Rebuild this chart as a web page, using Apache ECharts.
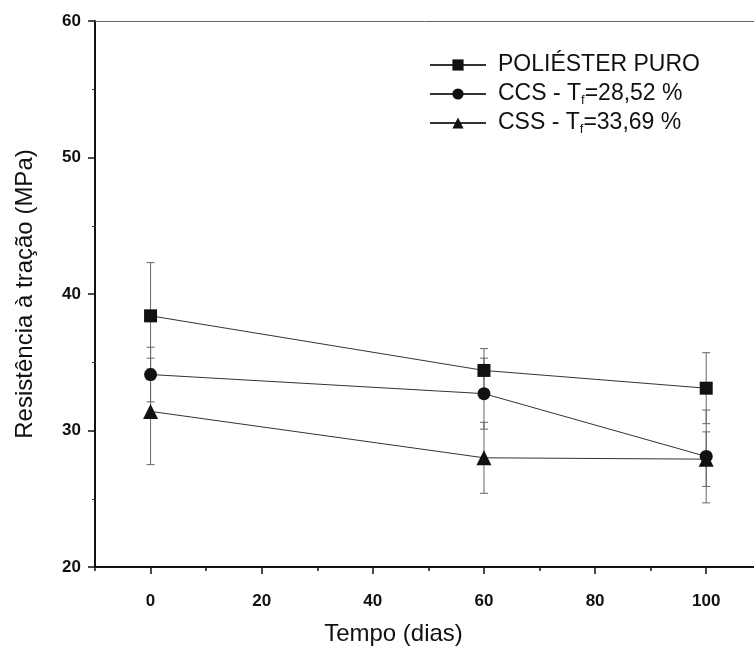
<!DOCTYPE html>
<html>
<head>
<meta charset="utf-8">
<script src="https://cdn.jsdelivr.net/npm/echarts@6/dist/echarts.min.js"></script>
<style>
  html, body { margin: 0; padding: 0; background: #fff; }
  #chart { width: 754px; height: 651px; }
</style>
</head>
<body>
<div id="chart"></div>
<script>
// Tempo de envelhecimento (dias)
const days = [0, 60, 100];

// Resistência à tração média (MPa) e desvio padrão
const puroMean = [38.4, 34.4, 33.1];
const puroSd   = [3.9, 1.6, 2.6];
const ccsMean  = [34.1, 32.7, 28.1];
const ccsSd    = [2.0, 2.6, 3.4];
const cssMean  = [31.4, 28.0, 27.9];
const cssSd    = [3.9, 2.6, 2.0];

const seriesNames = ['POLIÉSTER PURO', 'CCS', 'CSS'];
const legendLabels = ['POLIÉSTER PURO', 'CCS - T{sub|f}=28,52 %', 'CSS - T{sub|f}=33,69 %'];
const symbols = ['rect', 'circle', 'triangle'];
const symbolSizes = [13, 13, 15];

const yTicks = [20, 30, 40, 50, 60];
const xTicks = [0, 20, 40, 60, 80, 100];
const xMinorTicks = [-10, 10, 30, 50, 70, 90];

const means = [puroMean, ccsMean, cssMean];
const sds = [puroSd, ccsSd, cssSd];

const FONT = 'Liberation Sans, Arial, sans-serif';
const X_MIN = -10;
const X_MAX = 108.6; // o eixo continua além da borda direita

function errorBarRenderer(params, api) {
  const x = api.value(0);
  const m = api.value(1);
  const s = api.value(2);
  const top = api.coord([x, m + s]);
  const bot = api.coord([x, m - s]);
  const cap = 4;
  const style = { stroke: '#666', lineWidth: 1 };
  return {
    type: 'group',
    children: [
      { type: 'line', shape: { x1: top[0], y1: top[1], x2: bot[0], y2: bot[1] }, style },
      { type: 'line', shape: { x1: top[0] - cap, y1: top[1], x2: top[0] + cap, y2: top[1] }, style },
      { type: 'line', shape: { x1: bot[0] - cap, y1: bot[1], x2: bot[0] + cap, y2: bot[1] }, style }
    ]
  };
}

const series = [];
seriesNames.forEach((name, i) => {
  series.push({
    type: 'custom',
    name: name + ' (erro)',
    renderItem: errorBarRenderer,
    data: days.map((d, k) => [d, means[i][k], sds[i][k]]),
    z: 2,
    silent: true,
    clip: false
  });
});
seriesNames.forEach((name, i) => {
  series.push({
    type: 'line',
    name: name,
    data: days.map((d, k) => [d, means[i][k]]),
    symbol: symbols[i],
    symbolSize: symbolSizes[i],
    showAllSymbol: true,
    lineStyle: { color: '#333', width: 1 },
    itemStyle: { color: '#111' },
    z: 3
  });
});

const chart = echarts.init(document.getElementById('chart'), null, { renderer: 'canvas' });
chart.setOption({
  backgroundColor: '#fff',
  animation: false,
  grid: { left: 95, right: 0, top: 21, bottom: 83, show: false },
  legend: {
    data: seriesNames,
    orient: 'vertical',
    left: 424,
    top: 47,
    itemWidth: 56,
    itemHeight: 14,
    itemGap: 1,
    formatter: function (name) {
      return legendLabels[seriesNames.indexOf(name)];
    },
    textStyle: {
      fontFamily: FONT, fontSize: 23, color: '#111', lineHeight: 26, padding: [0, 0, 0, 7],
      rich: {
        sub: { fontFamily: FONT, fontSize: 13, color: '#111', lineHeight: 12, verticalAlign: 'bottom', padding: [15, 0, 0, 0] }
      }
    }
  },
  xAxis: [
    {
      type: 'value',
      min: X_MIN, max: X_MAX, interval: 10,
      name: 'Tempo (dias)',
      nameLocation: 'middle',
      nameGap: 55,
      nameTextStyle: { fontFamily: FONT, fontSize: 24, color: '#111', padding: [0, 62, 0, 0] },
      axisLine: { onZero: false, lineStyle: { color: '#111', width: 2 } },
      axisTick: { show: true, length: 7, customValues: xTicks, lineStyle: { color: '#111', width: 1.5 } },
      splitLine: { show: false },
      axisLabel: {
        fontFamily: FONT, fontSize: 17, fontWeight: 'bold', color: '#111', margin: 26,
        customValues: xTicks
      }
    },
    {
      type: 'value',
      position: 'bottom',
      min: X_MIN, max: X_MAX, interval: 10,
      axisLine: { show: false, onZero: false },
      axisTick: { show: true, length: 4, customValues: xMinorTicks, lineStyle: { color: '#111', width: 1.5 } },
      axisLabel: { show: false },
      splitLine: { show: false }
    },
    {
      type: 'value',
      position: 'top',
      min: X_MIN, max: X_MAX, interval: 10,
      axisLine: { show: true, onZero: false, lineStyle: { color: '#666', width: 1 } },
      axisTick: { show: false },
      axisLabel: { show: false },
      splitLine: { show: false }
    }
  ],
  yAxis: {
    type: 'value',
    min: 20, max: 60, interval: 10,
    name: 'Resistência à tração (MPa)',
    nameLocation: 'middle',
    nameGap: 58,
    nameTextStyle: { fontFamily: FONT, fontSize: 24, color: '#111' },
    axisLine: { onZero: false, lineStyle: { color: '#111', width: 2 } },
    axisTick: { show: true, length: 7, lineStyle: { color: '#111', width: 1.5 } },
    minorTick: { show: true, splitNumber: 2, length: 3, lineStyle: { color: '#333', width: 1 } },
    splitLine: { show: false },
    axisLabel: {
      fontFamily: FONT, fontSize: 17, fontWeight: 'bold', color: '#111', margin: 14,
      formatter: v => (yTicks.indexOf(v) >= 0 ? String(v) : '')
    }
  },
  series: series
});
</script>
</body>
</html>
